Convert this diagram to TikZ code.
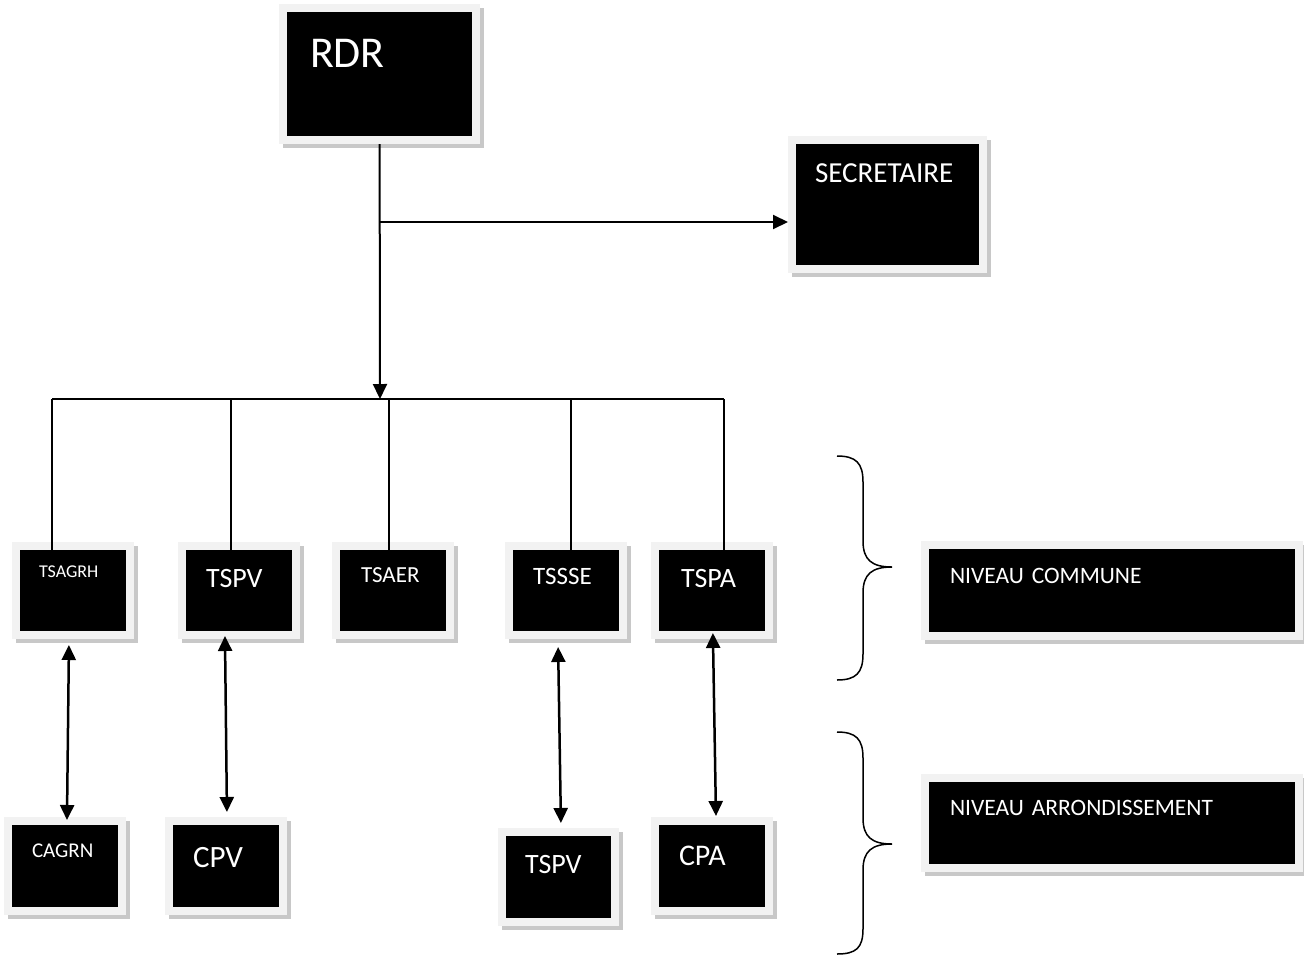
\documentclass[tikz,border=0pt]{standalone}
\usepackage{fontspec}
\setmainfont{Carlito}
\usetikzlibrary{arrows.meta}
\definecolor{boxrim}{RGB}{242,242,242}
\definecolor{boxshade}{RGB}{200,200,200}
\newcommand{\boxfont}[1]{\fontsize{#1}{#1}\selectfont}
\hyphenpenalty=10000
\tikzset{
  unit/.style={draw=boxrim, line width=8pt, fill=black, text=white, inner ysep=0pt,
    align=left, anchor=north west,
    preaction={draw=boxshade, fill=boxshade, line width=8pt,
      transform canvas={shift={(3.5pt,-4pt)}}}},
  link/.style={line width=2pt},
  dlink/.style={line width=2.5pt, <->},
  brace/.style={line width=1.5pt}
}
\begin{document}
\begin{tikzpicture}[x=1pt, y=-1pt, >={Triangle[length=15pt,width=14pt]}]
\useasboundingbox (0,0) rectangle (1304,956);

\node[unit, inner xsep=27pt, text width=139pt, text height=59pt, text depth=73pt, font=\boxfont{44}] (rdr) at (279,4) {RDR};
\node[unit, inner xsep=23pt, text width=145pt, text height=42pt, text depth=87pt, font=\boxfont{29}] (sec) at (788,136) {SECRETAIRE};

\node[unit, inner xsep=23pt, text width=68pt, text height=31pt, text depth=58pt, font=\boxfont{18}] (tsagrh) at (12,542) {TSAGRH};
\node[unit, inner xsep=24pt, text width=66pt, text height=41pt, text depth=48pt, font=\boxfont{28}] (tspv) at (178,542) {TSPV};
\node[unit, inner xsep=25pt, text width=64pt, text height=36pt, text depth=53pt, font=\boxfont{23}] (tsaer) at (332,542) {TSAER};
\node[unit, inner xsep=24pt, text width=66pt, text height=38pt, text depth=51pt, font=\boxfont{25}] (tssse) at (505,542) {TSSSE};
\node[unit, inner xsep=26pt, text width=62pt, text height=41pt, text depth=48pt, font=\boxfont{28}] (tspa) at (651,542) {TSPA};

\node[unit, inner xsep=24pt, text width=66pt, text height=36pt, text depth=54pt, font=\boxfont{21}] (cagrn) at (4,817) {CAGRN};
\node[unit, inner xsep=24pt, text width=66pt, text height=46pt, text depth=44pt, font=\boxfont{31}] (cpv) at (165,817) {CPV};
\node[unit, inner xsep=23pt, text width=67pt, text height=41pt, text depth=49pt, font=\boxfont{28}] (tspvb) at (498,828) {TSPV};
\node[unit, inner xsep=24pt, text width=66pt, text height=44pt, text depth=46pt, font=\boxfont{30}] (cpa) at (651,817) {CPA};

\node[unit, inner xsep=25pt, text width=324pt, text height=38pt, text depth=53pt, font=\boxfont{23.5}] (commune) at (921,541) {NIVEAU COMMUNE};
\node[unit, inner xsep=25pt, text width=324pt, text height=37pt, text depth=53pt, font=\boxfont{23.5}] (arrond) at (921,774) {NIVEAU ARRONDISSEMENT};

\coordinate (split) at (380,222);
\coordinate (bus) at (380,399);
\coordinate (b1) at (52,399);
\coordinate (b2) at (231,399);
\coordinate (b3) at (389,399);
\coordinate (b4) at (571,399);
\coordinate (b5) at (724,399);

\draw[link,->] (rdr) -- (bus);
\draw[link,->] (split) -- (split -| sec.west);
\draw[link] (b1) -- (b5);
\draw[link, shorten >=-8pt] (b1) -- (b1 |- tsagrh.north);
\draw[link, shorten >=-8pt] (b2) -- (b2 |- tspv.north);
\draw[link, shorten >=-8pt] (b3) -- (b3 |- tsaer.north);
\draw[link, shorten >=-8pt] (b4) -- (b4 |- tssse.north);
\draw[link, shorten >=-8pt] (b5) -- (b5 |- tspa.north);

\draw[dlink, shorten <=6pt, shorten >=-3pt] ([xshift=-4pt]tsagrh.south) -- ([xshift=2pt]cagrn.north);
\draw[dlink, shorten <=-3pt, shorten >=5pt] ([xshift=-14pt]tspv.south) -- ([xshift=1pt]cpv.north);
\draw[dlink, shorten <=8pt, shorten >=5pt] ([xshift=-8pt]tssse.south) -- ([xshift=2.5pt]tspvb.north);
\draw[dlink, shorten <=-6pt, shorten >=1pt] ([xshift=1pt]tspa.south) -- ([xshift=4pt]cpa.north);

% braces
\draw[brace] (837,456) .. controls (856,456) and (863,463) .. (863,482) -- (863,541)
  .. controls (863,560) and (872,567) .. (892,567) .. controls (872,567) and (863,574) .. (863,593)
  -- (863,654) .. controls (863,673) and (856,680) .. (837,680);
\draw[brace] (837,732) .. controls (856,732) and (863,739) .. (863,758) -- (863,818)
  .. controls (863,837) and (872,844) .. (892,844) .. controls (872,844) and (863,851) .. (863,870)
  -- (863,929) .. controls (863,948) and (856,954) .. (837,954);
\end{tikzpicture}
\end{document}
